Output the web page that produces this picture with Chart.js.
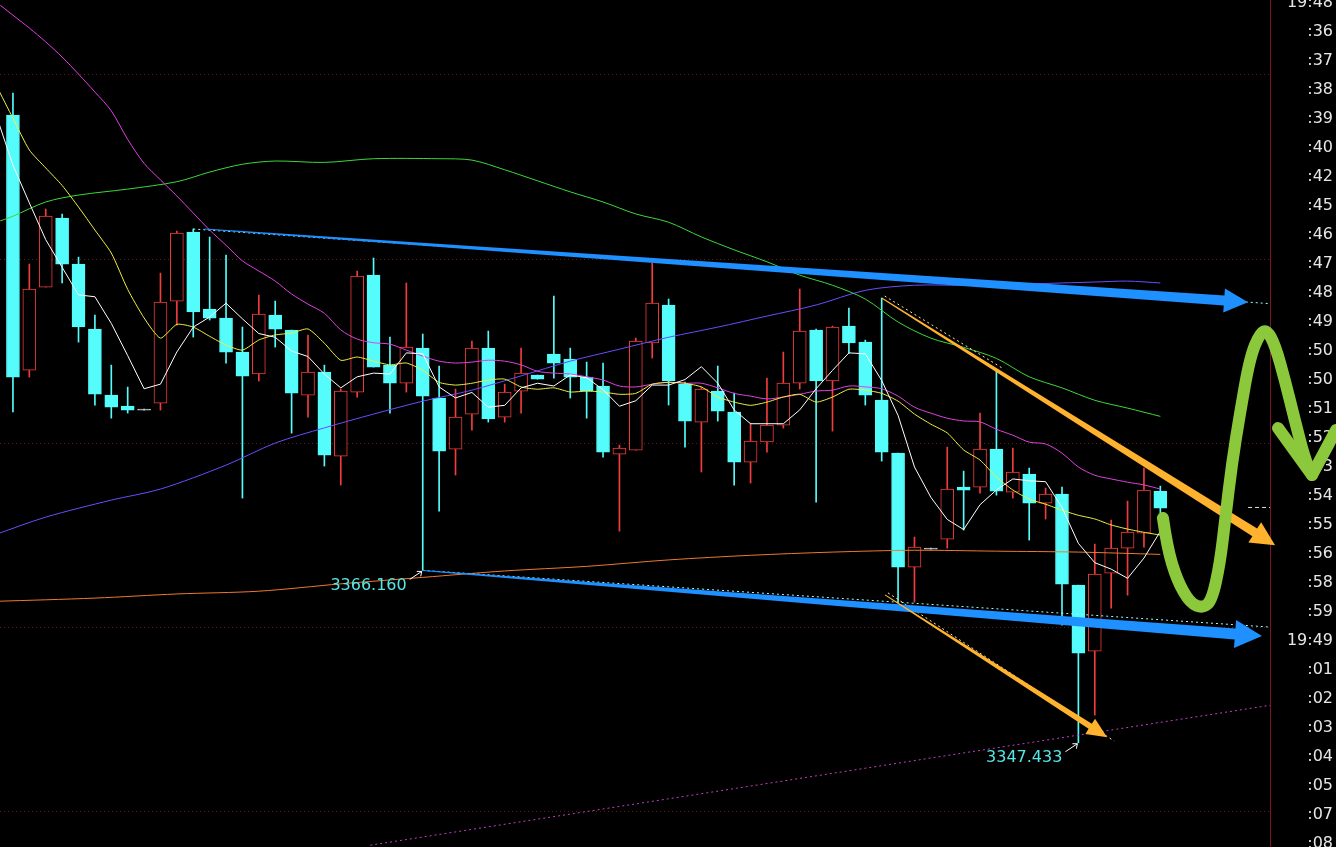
<!DOCTYPE html>
<html>
<head>
<meta charset="utf-8">
<title>K线走势</title>
<script src="https://cdn.jsdelivr.net/npm/chart.js"></script>
<style>
  html, body { margin: 0; padding: 0; background: #000; overflow: hidden; }
  canvas { display: block; }
</style>
</head>
<body>
<canvas id="kline" width="1336" height="847"></canvas>
<script>
// candles, one per bar (price units)
const candleOpen = [3415.65,3387.93,3396.95,3404.45,3399.45,3392.39,3385.21,3384.02,3383.58,3384.34,
  3395.43,3402.93,3394.56,3393.58,3389.89,3387.50,3393.91,3392.28,3385.21,3387.71,
  3378.58,3385.54,3398.26,3388.47,3386.52,3390.32,3384.89,3379.34,3383.15,3390.32,
  3382.82,3385.65,3387.39,3389.67,3389.13,3387.17,3386.19,3378.80,3379.23,3390.87,
  3395.00,3386.41,3382.28,3385.65,3383.37,3377.93,3380.11,3381.95,3386.52,3392.28,
  3386.74,3392.71,3390.97,3384.67,3378.91,3366.52,3368.47,3369.56,3375.21,3375.21,
  3379.34,3374.67,3376.63,3373.48,3374.45,3364.56,3357.39,3365.87,3368.58,3370.21,3374.78];
const candleHigh = [3418.04,3399.45,3405.43,3404.89,3400.21,3393.91,3388.47,3386.08,3383.58,3398.47,
  3403.04,3403.26,3402.39,3400.43,3392.61,3396.08,3395.43,3392.28,3391.74,3388.47,
  3385.87,3398.69,3400.11,3391.52,3397.39,3391.85,3388.37,3385.87,3391.08,3392.17,
  3386.41,3390.32,3387.39,3395.98,3390.32,3388.80,3388.69,3379.78,3391.41,3399.56,
  3395.65,3386.63,3386.08,3388.37,3385.43,3382.17,3387.06,3389.89,3396.74,3392.39,
  3392.71,3394.67,3391.19,3395.76,3378.91,3369.78,3368.47,3379.56,3376.95,3383.26,
  3387.93,3379.45,3377.28,3375.11,3375.21,3364.56,3369.02,3371.63,3373.69,3377.28,3375.32];
const candleLow = [3383.37,3387.17,3396.95,3397.39,3390.97,3384.13,3382.71,3383.26,3383.58,3383.58,
  3392.82,3391.52,3393.37,3388.69,3374.02,3386.74,3390.43,3381.08,3382.82,3377.50,
  3375.43,3385.00,3388.26,3383.26,3385.54,3366.16,3372.61,3376.52,3381.41,3382.28,
  3382.28,3383.26,3386.95,3387.06,3384.89,3382.71,3378.47,3370.43,3379.23,3389.24,
  3384.13,3379.56,3376.85,3382.39,3375.43,3375.65,3379.02,3381.63,3385.87,3373.58,
  3381.30,3389.78,3384.13,3378.04,3362.71,3362.71,3368.47,3368.58,3370.54,3374.56,
  3374.34,3374.02,3369.45,3371.74,3360.21,3347.43,3350.43,3362.06,3363.47,3368.69,3372.39];
const candleClose = [3387.17,3396.74,3404.67,3399.45,3392.61,3385.32,3383.91,3383.58,3383.58,3395.32,
  3402.82,3394.24,3393.58,3389.89,3387.28,3394.02,3392.39,3385.43,3387.71,3378.69,
  3385.65,3398.15,3388.26,3386.52,3390.43,3385.10,3379.13,3382.82,3390.32,3382.61,
  3385.54,3387.61,3386.95,3388.69,3387.17,3385.65,3379.02,3379.45,3391.08,3395.21,
  3386.74,3382.39,3385.87,3383.47,3377.93,3380.21,3381.95,3386.52,3392.17,3386.74,
  3392.61,3390.87,3385.21,3379.02,3366.52,3368.69,3368.47,3375.00,3374.89,3379.34,
  3374.78,3376.85,3373.48,3374.45,3364.67,3357.17,3365.76,3368.58,3370.32,3374.89,3372.93];

// moving averages, first value sits one bar left of candle 0
const ma5 = [3415.5,3410.2,3406.1,3402.1,3399.1,3396.1,3395.9,3393.0,3389.5,3385.9,3386.4,
  3389.9,3392.6,3393.7,3395.2,3393.5,3391.9,3391.5,3390.0,3389.4,3387.5,
  3386.0,3387.2,3387.6,3387.5,3389.8,3389.7,3386.1,3384.9,3385.5,3383.9,
  3384.1,3386.0,3386.5,3386.2,3387.4,3387.1,3385.8,3384.0,3384.6,3386.3,
  3386.3,3386.9,3388.3,3386.5,3383.6,3382.1,3382.1,3382.1,3383.6,3385.9,
  3387.9,3389.8,3389.7,3386.8,3383.0,3377.4,3374.1,3371.7,3370.6,3373.3,
  3374.9,3376.1,3375.9,3375.8,3373.0,3369.1,3367.0,3366.3,3365.3,3367.5,3370.4];
const ma10 = [3418.8,3415.3,3411.85,3409.9,3408.0,3405.65,3403.15,3400.65,3396.7,3393.6,3391.4,
  3392.9,3392.6,3391.6,3390.65,3390.1,3391.2,3391.75,3391.95,3392.4,3390.85,
  3389.0,3389.35,3388.9,3388.5,3388.7,3387.9,3386.6,3386.3,3386.5,3386.85,
  3386.95,3386.1,3385.85,3386.0,3385.55,3385.65,3385.55,3385.3,3385.4,3386.4,
  3386.6,3386.5,3386.1,3385.0,3384.45,3384.1,3384.45,3385.0,3385.3,3384.45,
  3385.0,3385.85,3385.75,3385.4,3384.55,3383.15,3382.05,3381.1,3379.25,3378.15,
  3376.3,3374.9,3373.9,3373.35,3372.7,3372.15,3371.75,3371.1,3370.65,3370.3,3370.0];
const ma20 = [3427.9,3426.5,3425.1,3423.6,3421.95,3420.1,3418.15,3416.1,3413.0,3410.4,3408.6,
  3406.85,3405.0,3403.15,3401.5,3399.8,3398.7,3397.6,3396.2,3395.1,3394.1,
  3392.3,3391.3,3390.9,3390.75,3390.1,3389.45,3388.9,3388.7,3388.8,3389.0,
  3388.9,3388.5,3387.8,3387.6,3387.5,3387.2,3386.85,3386.2,3386.1,3386.4,
  3386.6,3386.5,3386.5,3386.0,3385.4,3385.1,3384.8,3385.0,3385.3,3385.65,
  3385.75,3386.2,3386.1,3385.9,3385.1,3383.9,3383.25,3382.7,3382.4,3382.3,
  3381.5,3380.85,3380.1,3379.9,3378.9,3377.4,3376.5,3376.1,3375.75,3375.45,3375.0];

// slower averages, read at fewer bars
const ma60Idx = [-1,0,2,4,7,10,12,14,16,19,22,26,28,30,32,34,36,38,40,42,44,46,48,50,52,54,56,58,60,62,64,66,68,70];
const ma60 = [3404.0,3404.65,3406.2,3406.95,3407.6,3408.4,3409.45,3410.3,3410.65,3410.5,3410.9,3410.9,3410.75,3409.7,
  3408.5,3407.3,3406.2,3404.9,3404.0,3402.4,3401.0,3399.7,3398.25,3397.15,3395.65,3393.15,3391.4,3390.4,
  3389.2,3387.2,3386.0,3384.65,3383.8,3382.9];
const ma120Idx = [-1,2,6,9,13,16,19,22,25,28,31,34,37,40,43,46,49,52,55,58,62,66,68,70];
const ma120 = [3370.1,3371.95,3373.8,3375.0,3377.6,3380.0,3381.65,3383.15,3384.55,3385.75,3387.3,3388.9,
  3390.2,3391.5,3392.6,3393.8,3395.0,3396.6,3397.15,3397.15,3397.3,3397.5,3397.6,3397.4];
const ma250Idx = [-1,5,10,15,20,25,30,35,40,45,50,55,60,65,70];
const ma250 = [3362.8,3363.15,3363.6,3363.9,3364.7,3365.4,3366.1,3366.6,3367.3,3367.8,3368.15,3368.35,3368.25,3368.15,3367.9];

// dotted trend line at the bottom
const trendIdx = [21.8, 76.7];
const trendVal = [3336.3, 3351.5];

// right-hand axis labels, top to bottom
const axisLabels = ['19:48',':36',':37',':38',':39',':40',':42',':45',':46',':47',':48',':49',':50',':50',
  ':51',':52',':53',':54',':55',':56',':58',':59','19:49',':01',':02',':03',':04',':05',':07',':08'];
const TICK_TOP = 3427.82, TICK_STEP = 3.152;
const gridValues = [3340, 3360, 3380, 3400, 3420];
const Y_MIN = 3336.1, Y_MAX = 3428.15;
const X_MIN = -0.79, X_MAX = 76.69;

// drawn annotations, [bar index, price]
const blueTop = { from: [11.7, 3403.26], to: [75.35, 3395.3], guide: [[11.0, 3403.26], [76.69, 3395.15]] };
const blueLow = { from: [25, 3366.16], to: [76.2, 3359.02], guide: [[25, 3366.16], [76.69, 3360.0]] };
const orangeTop = { from: [53, 3395.76], to: [77.0, 3368.9], guide: [[53, 3395.76], [60.2, 3387.9]] };
const orangeLow = { from: [53.2, 3363.5], to: [66.75, 3348.04], guide: [[53.2, 3363.5], [67.0, 3347.4]] };
const greenPath = [[70.16,3371.85],[70.41,3368.69],[71.02,3365.1],[71.81,3362.6],[72.6,3362.06],[73.15,3362.93],
  [73.64,3366.95],[73.95,3371.63],[74.37,3377.82],[74.86,3383.26],[75.47,3389.35],[76.08,3391.96],[76.51,3392.28],
  [77.0,3390.65],[77.6,3386.85],[78.2,3382.5],[78.8,3378.37],[79.25,3376.52]];
const greenHead = [[77.18,3381.63],[79.25,3376.52],[80.72,3381.41]];
const priceMarks = [{ idx: 25, price: 3366.16, text: '3366.160' }, { idx: 65, price: 3347.43, text: '3347.433' }];
const lastPrice = 3373.0;

const UP = '#f03c3c', DOWN = '#54fcfc', FLAT = '#c8c8c8';
const bars = candleOpen.map((o, i) => i);
const candleColor = bars.map(i => candleClose[i] > candleOpen[i] ? UP : (candleClose[i] < candleOpen[i] ? DOWN : FLAT));

function fromStart(values, start) { return values.map((v, k) => ({ x: start + k, y: v })); }
function zip(xs, ys) { return xs.map((x, k) => ({ x: x, y: ys[k] })); }

function lineSet(data, color, tension, extra) {
  return Object.assign({ type: 'line', data: data, borderColor: color, borderWidth: 1, pointRadius: 0, tension: tension, order: 1 }, extra || {});
}

function taperArrow(ctx, a, b, w0, w1, headLen, headHalf, color) {
  const dx = b[0] - a[0], dy = b[1] - a[1];
  const len = Math.hypot(dx, dy);
  const ux = dx / len, uy = dy / len, nx = -uy, ny = ux;
  const sx = b[0] - ux * headLen, sy = b[1] - uy * headLen;
  ctx.beginPath();
  ctx.moveTo(a[0] + nx * w0 / 2, a[1] + ny * w0 / 2);
  ctx.lineTo(sx + nx * w1 / 2, sy + ny * w1 / 2);
  ctx.lineTo(sx + nx * headHalf, sy + ny * headHalf);
  ctx.lineTo(b[0], b[1]);
  ctx.lineTo(sx - nx * headHalf, sy - ny * headHalf);
  ctx.lineTo(sx - nx * w1 / 2, sy - ny * w1 / 2);
  ctx.lineTo(a[0] - nx * w0 / 2, a[1] - ny * w0 / 2);
  ctx.closePath();
  ctx.fillStyle = color;
  ctx.fill();
}

const drawings = {
  id: 'drawings',
  afterDatasetsDraw(chart) {
    const ctx = chart.ctx;
    const xs = chart.scales.x, ys = chart.scales.y;
    const px = p => [xs.getPixelForValue(p[0]), ys.getPixelForValue(p[1])];
    ctx.save();

    // dotted guide lines under the arrows
    ctx.lineWidth = 1;
    ctx.setLineDash([2, 3]);
    [blueTop, blueLow].forEach(a => {
      ctx.strokeStyle = '#9ff';
      const g0 = px(a.guide[0]), g1 = px(a.guide[1]);
      ctx.beginPath(); ctx.moveTo(g0[0], g0[1]); ctx.lineTo(g1[0], g1[1]); ctx.stroke();
    });
    [orangeTop, orangeLow].forEach(a => {
      ctx.strokeStyle = '#ffe9a0';
      const g0 = px(a.guide[0]), g1 = px(a.guide[1]);
      ctx.beginPath(); ctx.moveTo(g0[0] + 3, g0[1] - 2); ctx.lineTo(g1[0] + 3, g1[1] - 2); ctx.stroke();
    });
    ctx.setLineDash([4, 3]);
    ctx.strokeStyle = '#e0e0e0';
    const lp0 = px([75.35, lastPrice]), lp1 = px([X_MAX, lastPrice]);
    ctx.beginPath(); ctx.moveTo(lp0[0], lp0[1]); ctx.lineTo(lp1[0], lp1[1]); ctx.stroke();
    ctx.setLineDash([]);

    // arrows
    taperArrow(ctx, px(blueTop.from), px(blueTop.to), 1, 10, 24, 12, '#1e90ff');
    taperArrow(ctx, px(blueLow.from), px(blueLow.to), 1, 11, 27, 14, '#1e90ff');
    taperArrow(ctx, px(orangeTop.from), px(orangeTop.to), 1, 9, 24, 12, '#ffb22e');
    taperArrow(ctx, px(orangeLow.from), px(orangeLow.to), 1, 6, 20, 9, '#ffb22e');

    // hand drawn green stroke
    ctx.strokeStyle = '#8cc83c';
    ctx.lineWidth = 12;
    ctx.lineCap = 'round';
    ctx.lineJoin = 'round';
    const pts = greenPath.map(px);
    ctx.beginPath();
    ctx.moveTo(pts[0][0], pts[0][1]);
    for (let k = 1; k < pts.length - 1; k++) {
      const mx = (pts[k][0] + pts[k + 1][0]) / 2, my = (pts[k][1] + pts[k + 1][1]) / 2;
      ctx.quadraticCurveTo(pts[k][0], pts[k][1], mx, my);
    }
    ctx.lineTo(pts[pts.length - 1][0], pts[pts.length - 1][1]);
    ctx.stroke();
    const hd = greenHead.map(px);
    ctx.beginPath();
    ctx.moveTo(hd[0][0], hd[0][1]); ctx.lineTo(hd[1][0], hd[1][1]); ctx.lineTo(hd[2][0], hd[2][1]);
    ctx.stroke();

    // price labels at the lows
    ctx.font = '16px "DejaVu Sans"';
    ctx.textAlign = 'right';
    ctx.textBaseline = 'middle';
    priceMarks.forEach(m => {
      const p = px([m.idx, m.price]);
      ctx.fillStyle = '#56e6e6';
      ctx.fillText(m.text, p[0] - 16, p[1] + 15);
      ctx.strokeStyle = '#ffffff';
      ctx.lineWidth = 1;
      ctx.lineCap = 'butt';
      ctx.beginPath();
      ctx.moveTo(p[0] - 13, p[1] + 9); ctx.lineTo(p[0] - 1, p[1] + 1);
      ctx.moveTo(p[0] - 1, p[1] + 1); ctx.lineTo(p[0] - 6, p[1] + 1);
      ctx.moveTo(p[0] - 1, p[1] + 1); ctx.lineTo(p[0] - 2, p[1] + 6);
      ctx.stroke();
    });
    ctx.restore();
  }
};

const ctx = document.getElementById('kline').getContext('2d');
const chart = new Chart(ctx, {
  type: 'bar',
  data: {
    datasets: [
      lineSet(fromStart(ma5, -1), '#ffffff', 0),
      lineSet(fromStart(ma10, -1), '#f0f040', 0.2),
      lineSet(fromStart(ma20, -1), '#e040e0', 0.3),
      lineSet(zip(ma60Idx, ma60), '#3cd83c', 0.3),
      lineSet(zip(ma120Idx, ma120), '#6a4cff', 0.3),
      lineSet(zip(ma250Idx, ma250), '#f07830', 0.3),
      lineSet(zip(trendIdx, trendVal), '#c040c0', 0, { borderDash: [2, 3] }),
      {
        label: 'body',
        data: bars.map(i => ({ x: i, y: [candleOpen[i], candleClose[i]] })),
        backgroundColor: bars.map(i => candleColor[i] === UP ? '#000000' : candleColor[i]),
        borderColor: candleColor,
        borderWidth: 1,
        borderSkipped: false,
        barThickness: 13,
        minBarLength: 1,
        grouped: false,
        order: 10
      },
      {
        label: 'wick',
        data: bars.map(i => ({ x: i, y: [candleLow[i], candleHigh[i]] })),
        backgroundColor: candleColor,
        borderWidth: 0,
        barThickness: 1,
        minBarLength: 1,
        grouped: false,
        order: 11
      }
    ]
  },
  options: {
    responsive: false,
    animation: false,
    events: [],
    layout: { padding: { left: 0, right: 3, top: 0, bottom: 0 } },
    plugins: { legend: { display: false }, tooltip: { enabled: false } },
    scales: {
      x: { type: 'linear', min: X_MIN, max: X_MAX, offset: false, display: false },
      y: {
        position: 'right',
        min: Y_MIN,
        max: Y_MAX,
        grid: { display: false },
        border: { display: true, color: '#7d1622', width: 1 },
        ticks: {
          autoSkip: false,
          color: '#e6e6e6',
          font: { family: '"DejaVu Sans"', size: 16 },
          crossAlign: 'far',
          padding: 0,
          callback: (v, i, ticks) => axisLabels[ticks.length - 1 - i]
        },
        afterBuildTicks: s => {
          s.ticks = axisLabels.map((t, k) => ({ value: TICK_TOP - k * TICK_STEP })).reverse();
        },
        afterFit: s => { s.width = 63; s.paddingTop = 0; s.paddingBottom = 0; }
      },
      yg: {
        position: 'left',
        min: Y_MIN,
        max: Y_MAX,
        ticks: { display: false },
        grid: { color: '#6a1616', drawTicks: false, lineWidth: 1 },
        border: { display: false, dash: [1, 3] },
        afterBuildTicks: s => { s.ticks = gridValues.map(v => ({ value: v })); },
        afterFit: s => { s.width = 0; s.paddingTop = 0; s.paddingBottom = 0; }
      }
    }
  },
  plugins: [drawings]
});
</script>
</body>
</html>
